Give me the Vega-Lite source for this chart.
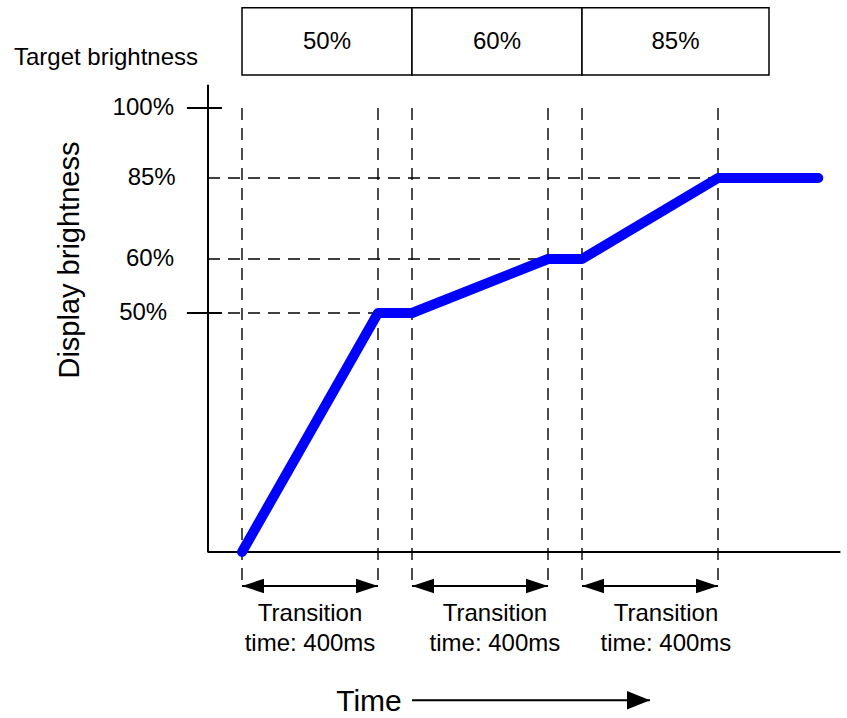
{
  "$schema": "https://vega.github.io/schema/vega-lite/v6.json",
  "width": 847,
  "height": 718,
  "autosize": "none",
  "padding": 0,
  "background": "white",
  "config": {
    "view": {"stroke": null},
    "text": {"font": "Liberation Sans", "color": "black"}
  },
  "datasets": {
    "curve": [
      {"t": 0, "b": 0},
      {"t": 400, "b": 50},
      {"t": 500, "b": 50},
      {"t": 900, "b": 60},
      {"t": 1000, "b": 60},
      {"t": 1400, "b": 85},
      {"t": 1695, "b": 85}
    ],
    "instants": [
      {"t": 0, "top": 100, "bottom": -7.11},
      {"t": 400, "top": 100, "bottom": -7.11},
      {"t": 500, "top": 100, "bottom": -7.11},
      {"t": 900, "top": 100, "bottom": -7.11},
      {"t": 1000, "top": 100, "bottom": -7.11},
      {"t": 1400, "top": 100, "bottom": -7.11}
    ],
    "levels": [
      {"b": 100, "label": "100%", "lx": -200},
      {"b": 85, "label": "85%", "lx": -195},
      {"b": 60, "label": "60%", "lx": -200},
      {"b": 50, "label": "50%", "lx": -220}
    ],
    "guides": [
      {"b": 85, "start": -100, "end": 1400},
      {"b": 60, "start": -100, "end": 900},
      {"b": 50, "start": -100, "end": 400}
    ],
    "solidTicks": [
      {"b": 100, "from": -162, "to": -59},
      {"b": 50, "from": -162, "to": -59}
    ],
    "axes": [
      {"xa": -100, "xb": -100, "ya": 105, "yb": 0},
      {"xa": -101.5, "xb": 1760, "ya": 0, "yb": 0}
    ],
    "targets": [
      {"start": 0, "end": 500, "mid": 250, "top": 121.5, "bottom": 107.07, "ly": 114.1, "label": "50%"},
      {"start": 500, "end": 1000, "mid": 750, "top": 121.5, "bottom": 107.07, "ly": 114.1, "label": "60%"},
      {"start": 1000, "end": 1550, "mid": 1275, "top": 121.5, "bottom": 107.07, "ly": 114.1, "label": "85%"}
    ],
    "transitions": [
      {"start": 0, "end": 400, "ay": -7.11, "center": 200, "y1": -12.97, "y2": -19.25, "l1": "Transition", "l2": "time: 400ms"},
      {"start": 500, "end": 900, "ay": -7.11, "center": 744, "y1": -12.97, "y2": -19.25, "l1": "Transition", "l2": "time: 400ms"},
      {"start": 1000, "end": 1400, "ay": -7.11, "center": 1247, "y1": -12.97, "y2": -19.25, "l1": "Transition", "l2": "time: 400ms"}
    ],
    "timeArrow": [{"start": 500, "end": 1200, "ay": -31, "lx": 470, "ly": -31.4, "label": "Time"}],
    "titles": [{"label": "Target brightness", "tx": -400, "ty": 110.7}],
    "ytitle": [{"label": "Display brightness", "tx": -506, "ty": 59.8}]
  },
  "layer": [
    {
      "data": {"name": "instants"},
      "mark": {"type": "rule", "color": "black", "strokeWidth": 1.4, "strokeDash": [12, 8]},
      "encoding": {
        "x": {"field": "t", "type": "quantitative", "axis": null, "scale": {"domain": [-711.7647, 1779.4118], "range": [0, 847], "nice": false, "zero": false}},
        "y": {"field": "top", "type": "quantitative", "axis": null, "scale": {"domain": [0, 50, 60, 85, 100], "range": [552, 313, 259, 178, 108], "nice": false, "zero": false}},
        "y2": {"field": "bottom"}
      }
    },
    {
      "data": {"name": "guides"},
      "mark": {"type": "rule", "color": "black", "strokeWidth": 1.4, "strokeDash": [12, 8]},
      "encoding": {
        "x": {"field": "start", "type": "quantitative", "axis": null, "scale": {"domain": [-711.7647, 1779.4118], "range": [0, 847], "nice": false, "zero": false}},
        "x2": {"field": "end"},
        "y": {"field": "b", "type": "quantitative", "axis": null, "scale": {"domain": [0, 50, 60, 85, 100], "range": [552, 313, 259, 178, 108], "nice": false, "zero": false}}
      }
    },
    {
      "data": {"name": "solidTicks"},
      "mark": {"type": "rule", "color": "black", "strokeWidth": 2},
      "encoding": {
        "x": {"field": "from", "type": "quantitative", "axis": null, "scale": {"domain": [-711.7647, 1779.4118], "range": [0, 847], "nice": false, "zero": false}},
        "x2": {"field": "to"},
        "y": {"field": "b", "type": "quantitative", "axis": null, "scale": {"domain": [0, 50, 60, 85, 100], "range": [552, 313, 259, 178, 108], "nice": false, "zero": false}}
      }
    },
    {
      "data": {"name": "axes"},
      "mark": {"type": "rule", "color": "black", "strokeWidth": 2},
      "encoding": {
        "x": {"field": "xa", "type": "quantitative", "axis": null, "scale": {"domain": [-711.7647, 1779.4118], "range": [0, 847], "nice": false, "zero": false}},
        "x2": {"field": "xb"},
        "y": {"field": "ya", "type": "quantitative", "axis": null, "scale": {"domain": [0, 50, 60, 85, 100], "range": [552, 313, 259, 178, 108], "nice": false, "zero": false}},
        "y2": {"field": "yb"}
      }
    },
    {
      "data": {"name": "curve"},
      "mark": {"type": "line", "color": "#0000FF", "strokeWidth": 10, "strokeCap": "round", "strokeJoin": "round"},
      "encoding": {
        "x": {"field": "t", "type": "quantitative", "axis": null, "scale": {"domain": [-711.7647, 1779.4118], "range": [0, 847], "nice": false, "zero": false}},
        "y": {"field": "b", "type": "quantitative", "axis": null, "scale": {"domain": [0, 50, 60, 85, 100], "range": [552, 313, 259, 178, 108], "nice": false, "zero": false}}
      }
    },
    {
      "data": {"name": "levels"},
      "mark": {"type": "text", "fontSize": 24, "align": "right", "baseline": "middle"},
      "encoding": {
        "x": {"field": "lx", "type": "quantitative", "axis": null, "scale": {"domain": [-711.7647, 1779.4118], "range": [0, 847], "nice": false, "zero": false}},
        "y": {"field": "b", "type": "quantitative", "axis": null, "scale": {"domain": [0, 50, 60, 85, 100], "range": [552, 313, 259, 178, 108], "nice": false, "zero": false}},
        "text": {"field": "label", "type": "nominal"}
      }
    },
    {
      "data": {"name": "targets"},
      "mark": {"type": "rect", "fill": "white", "stroke": "black", "strokeWidth": 1.5},
      "encoding": {
        "x": {"field": "start", "type": "quantitative", "axis": null, "scale": {"domain": [-711.7647, 1779.4118], "range": [0, 847], "nice": false, "zero": false}},
        "x2": {"field": "end"},
        "y": {"field": "top", "type": "quantitative", "axis": null, "scale": {"domain": [0, 50, 60, 85, 100], "range": [552, 313, 259, 178, 108], "nice": false, "zero": false}},
        "y2": {"field": "bottom"}
      }
    },
    {
      "data": {"name": "targets"},
      "mark": {"type": "text", "fontSize": 24, "align": "center", "baseline": "middle"},
      "encoding": {
        "x": {"field": "mid", "type": "quantitative", "axis": null, "scale": {"domain": [-711.7647, 1779.4118], "range": [0, 847], "nice": false, "zero": false}},
        "y": {"field": "ly", "type": "quantitative", "axis": null, "scale": {"domain": [0, 50, 60, 85, 100], "range": [552, 313, 259, 178, 108], "nice": false, "zero": false}},
        "text": {"field": "label", "type": "nominal"}
      }
    },
    {
      "data": {"name": "transitions"},
      "mark": {"type": "rule", "color": "black", "strokeWidth": 2},
      "encoding": {
        "x": {"field": "start", "type": "quantitative", "axis": null, "scale": {"domain": [-711.7647, 1779.4118], "range": [0, 847], "nice": false, "zero": false}},
        "x2": {"field": "end"},
        "y": {"field": "ay", "type": "quantitative", "axis": null, "scale": {"domain": [0, 50, 60, 85, 100], "range": [552, 313, 259, 178, 108], "nice": false, "zero": false}}
      }
    },
    {
      "data": {"name": "transitions"},
      "mark": {"type": "point", "shape": "M0,0L2,-0.65L2,0.65Z", "filled": true, "color": "black", "opacity": 1, "size": 484, "strokeWidth": 0},
      "encoding": {
        "x": {"field": "start", "type": "quantitative", "axis": null, "scale": {"domain": [-711.7647, 1779.4118], "range": [0, 847], "nice": false, "zero": false}},
        "y": {"field": "ay", "type": "quantitative", "axis": null, "scale": {"domain": [0, 50, 60, 85, 100], "range": [552, 313, 259, 178, 108], "nice": false, "zero": false}}
      }
    },
    {
      "data": {"name": "transitions"},
      "mark": {"type": "point", "shape": "M0,0L-2,-0.65L-2,0.65Z", "filled": true, "color": "black", "opacity": 1, "size": 484, "strokeWidth": 0},
      "encoding": {
        "x": {"field": "end", "type": "quantitative", "axis": null, "scale": {"domain": [-711.7647, 1779.4118], "range": [0, 847], "nice": false, "zero": false}},
        "y": {"field": "ay", "type": "quantitative", "axis": null, "scale": {"domain": [0, 50, 60, 85, 100], "range": [552, 313, 259, 178, 108], "nice": false, "zero": false}}
      }
    },
    {
      "data": {"name": "transitions"},
      "mark": {"type": "text", "fontSize": 24, "align": "center", "baseline": "middle"},
      "encoding": {
        "x": {"field": "center", "type": "quantitative", "axis": null, "scale": {"domain": [-711.7647, 1779.4118], "range": [0, 847], "nice": false, "zero": false}},
        "y": {"field": "y1", "type": "quantitative", "axis": null, "scale": {"domain": [0, 50, 60, 85, 100], "range": [552, 313, 259, 178, 108], "nice": false, "zero": false}},
        "text": {"field": "l1", "type": "nominal"}
      }
    },
    {
      "data": {"name": "transitions"},
      "mark": {"type": "text", "fontSize": 24, "align": "center", "baseline": "middle"},
      "encoding": {
        "x": {"field": "center", "type": "quantitative", "axis": null, "scale": {"domain": [-711.7647, 1779.4118], "range": [0, 847], "nice": false, "zero": false}},
        "y": {"field": "y2", "type": "quantitative", "axis": null, "scale": {"domain": [0, 50, 60, 85, 100], "range": [552, 313, 259, 178, 108], "nice": false, "zero": false}},
        "text": {"field": "l2", "type": "nominal"}
      }
    },
    {
      "data": {"name": "timeArrow"},
      "mark": {"type": "rule", "color": "black", "strokeWidth": 2},
      "encoding": {
        "x": {"field": "start", "type": "quantitative", "axis": null, "scale": {"domain": [-711.7647, 1779.4118], "range": [0, 847], "nice": false, "zero": false}},
        "x2": {"field": "end"},
        "y": {"field": "ay", "type": "quantitative", "axis": null, "scale": {"domain": [0, 50, 60, 85, 100], "range": [552, 313, 259, 178, 108], "nice": false, "zero": false}}
      }
    },
    {
      "data": {"name": "timeArrow"},
      "mark": {"type": "point", "shape": "M0,0L-2,-0.8L-2,0.8Z", "filled": true, "color": "black", "opacity": 1, "size": 529, "strokeWidth": 0},
      "encoding": {
        "x": {"field": "end", "type": "quantitative", "axis": null, "scale": {"domain": [-711.7647, 1779.4118], "range": [0, 847], "nice": false, "zero": false}},
        "y": {"field": "ay", "type": "quantitative", "axis": null, "scale": {"domain": [0, 50, 60, 85, 100], "range": [552, 313, 259, 178, 108], "nice": false, "zero": false}}
      }
    },
    {
      "data": {"name": "timeArrow"},
      "mark": {"type": "text", "fontSize": 30, "align": "right", "baseline": "middle"},
      "encoding": {
        "x": {"field": "lx", "type": "quantitative", "axis": null, "scale": {"domain": [-711.7647, 1779.4118], "range": [0, 847], "nice": false, "zero": false}},
        "y": {"field": "ly", "type": "quantitative", "axis": null, "scale": {"domain": [0, 50, 60, 85, 100], "range": [552, 313, 259, 178, 108], "nice": false, "zero": false}},
        "text": {"field": "label", "type": "nominal"}
      }
    },
    {
      "data": {"name": "titles"},
      "mark": {"type": "text", "fontSize": 24, "align": "center", "baseline": "middle"},
      "encoding": {
        "x": {"field": "tx", "type": "quantitative", "axis": null, "scale": {"domain": [-711.7647, 1779.4118], "range": [0, 847], "nice": false, "zero": false}},
        "y": {"field": "ty", "type": "quantitative", "axis": null, "scale": {"domain": [0, 50, 60, 85, 100], "range": [552, 313, 259, 178, 108], "nice": false, "zero": false}},
        "text": {"field": "label", "type": "nominal"}
      }
    },
    {
      "data": {"name": "ytitle"},
      "mark": {"type": "text", "fontSize": 29, "align": "center", "baseline": "middle", "angle": 270},
      "encoding": {
        "x": {"field": "tx", "type": "quantitative", "axis": null, "scale": {"domain": [-711.7647, 1779.4118], "range": [0, 847], "nice": false, "zero": false}},
        "y": {"field": "ty", "type": "quantitative", "axis": null, "scale": {"domain": [0, 50, 60, 85, 100], "range": [552, 313, 259, 178, 108], "nice": false, "zero": false}},
        "text": {"field": "label", "type": "nominal"}
      }
    }
  ]
}
